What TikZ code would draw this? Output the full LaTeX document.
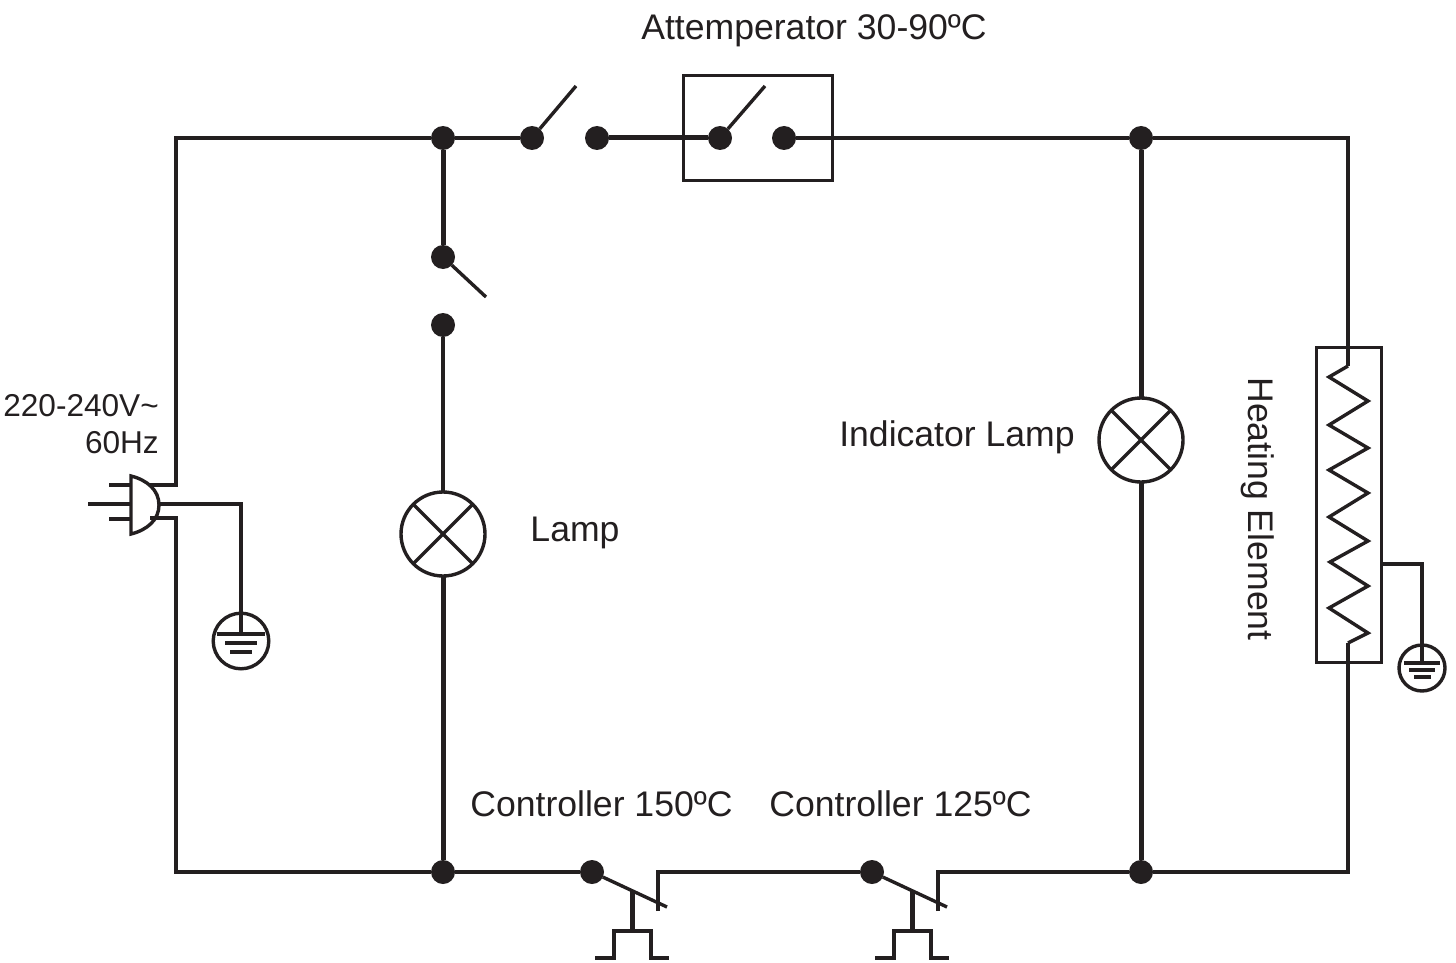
\documentclass[tikz,border=0pt]{standalone}
\usepackage{fontspec}
\setmainfont{Liberation Sans}
\definecolor{ink}{RGB}{35,31,32}

\begin{document}
\begin{tikzpicture}[x=1pt,y=-1pt,color=ink,line width=3.4pt,line join=miter,
    wire/.style={line width=3.4pt},
    thick wire/.style={line width=5pt},
    bar/.style={line width=4.6pt},
    label/.style={font=\fontsize{35.6}{40}\selectfont,inner sep=0pt},
    small label/.style={font=\fontsize{31.6}{38}\selectfont,inner sep=0pt}]

        \useasboundingbox (0,0) rectangle (1456,963);

        % joints and switch contacts
        \begin{scope}[every node/.style={circle,fill,inner sep=0pt,outer sep=0pt,minimum size=24pt}]
          \node (topleft)   at (443,138) {};
          \node (topright)  at (1141,138) {};
          \node (botleft)   at (443,872) {};
          \node (botright)  at (1141,872) {};
          \node (mainA)     at (532,138) {};
          \node (mainB)     at (597,138) {};
          \node (attempA)   at (720,138) {};
          \node (attempB)   at (784,138) {};
          \node (lampswA)   at (443,257) {};
          \node (lampswB)   at (443,325) {};
          \node (ctrlA)     at (592,872) {};
          \node (ctrlB)     at (872,872) {};
        \end{scope}

        % lamps
        \begin{scope}[every node/.style={circle,draw,inner sep=0pt,outer sep=0pt,minimum size=84pt}]
          \node (lamp)      at (443,534) {};
          \node (indicator) at (1141,440) {};
        \end{scope}
        \draw (lamp.45) -- (lamp.225);
        \draw (lamp.135) -- (lamp.315);
        \draw (indicator.45) -- (indicator.225);
        \draw (indicator.135) -- (indicator.315);

        % attemperator and heater boxes
        \node[draw,line width=3pt,inner sep=0pt,minimum width=149pt,minimum height=104pt] (attempbox) at (757.5,128) {};
        \node[draw,line width=3pt,inner sep=0pt,minimum width=65pt,minimum height=315pt] (heatbox) at (1348.5,504.5) {};

        % corners and free ends
        \coordinate (cTL) at (176,138);
        \coordinate (cBL) at (176,872);
        \coordinate (cTR) at (1348,138);
        \coordinate (cBR) at (1348,872);
        \coordinate (plugtop) at (150,485);
        \coordinate (plugbot) at (150,518);
        \coordinate (wireL) at (176,485);
        \coordinate (wireLb) at (176,518);
        \coordinate (heatT) at (1348,366);
        \coordinate (heatB) at (1348,643);

        % wires
        \draw[wire] (topleft) -- (cTL) -- (wireL) -- (plugtop);
        \draw[wire] (botleft) -- (cBL) -- (wireLb) -- (plugbot);
        \draw[wire] (topleft) -- (mainA);
        \draw[thick wire] (mainB) -- (attempA);
        \draw[wire] (attempB) -- (topright);
        \draw[wire] (topright) -- (cTR) -- (heatT);
        \draw[wire] (botright) -- (cBR) -- (heatB);
        \draw[thick wire] (topleft) -- (lampswA);
        \draw[wire] (lampswB) -- (lamp);
        \draw[thick wire] (lamp) -- (botleft);
        \draw[thick wire] (topright) -- (indicator);
        \draw[thick wire] (indicator) -- (botright);
        \draw[wire] (botleft) -- (ctrlA);

        % open switch blades
        \draw (mainA) -- (576,86);
        \draw (attempA) -- (765,86);
        \draw (lampswA) -- (486,297);

        % plug
        \draw (131,476) -- (131,534)
          .. controls (147,530) and (159,520) .. (159,505)
          .. controls (159,490) and (147,480) .. cycle;
        \draw (109,485) -- (131,485);
        \draw (88,504) -- (131,504);
        \draw (109,519) -- (131,519);

        % plug earth
        \node[circle,draw,inner sep=0pt,outer sep=0pt,minimum size=55.6pt] (gndA) at (241,641) {};
        \draw (159,504) -- (241,504) -- (241,634);
        \draw[bar] (217,634) -- (265,634);
        \draw[bar] (225,643) -- (257,643);
        \draw[bar] (230,652) -- (252,652);

        % heater coil
        \draw (heatT) -- (1329,377) -- (1368,401) -- (1329,425) -- (1368,448)
          -- (1329,470) -- (1368,493) -- (1329,517) -- (1368,541)
          -- (1330,562) -- (1368,586) -- (1329,608) -- (1368,633) -- (heatB);

        % heater earth
        \node[circle,draw,inner sep=0pt,outer sep=0pt,minimum size=46pt] (gndB) at (1422,668) {};
        \draw (1381,564) -- (1422,564) -- (1422,663);
        \draw[bar] (1404,663) -- (1440,663);
        \draw[bar] (1409,670) -- (1435,670);
        \draw[bar] (1414,677) -- (1431,677);

        % controllers
        \draw (ctrlA) -- (667,907);
        \draw[thick wire] (632,890) -- (632,931);
        \draw (595,958) -- (614,958) -- (614,931) -- (651,931) -- (651,958) -- (669,958);
        \draw (658,911) -- (658,872) -- (ctrlB);

        \draw (ctrlB) -- (947,907);
        \draw[thick wire] (912,890) -- (912,931);
        \draw (875,958) -- (894,958) -- (894,931) -- (931,931) -- (931,958) -- (949,958);
        \draw (938,911) -- (938,872) -- (botright);

        % labels
        \begin{scope}[every node/.style={label}]
          \node (attemplabel) at (814,31) {Attemperator 30-90ºC};
          \node (lamplabel) at (575,533) {Lamp};
          \node (indlabel) at (957,437) {Indicator Lamp};
          \node[rotate=-90] (heatlabel) at (1258,509) {Heating Element};
          \node (ctrlAlabel) at (601.5,804) {Controller 150ºC};
          \node (ctrlBlabel) at (900.5,804) {Controller 125ºC};
        \end{scope}
        \begin{scope}[every node/.style={small label}]
          \node[anchor=east] (mainslabel) at (160.5,406) {220-240V\textasciitilde};
          \node[anchor=east] (hzlabel) at (160.5,443) {60Hz};
        \end{scope}

      \end{tikzpicture}
\end{document}
